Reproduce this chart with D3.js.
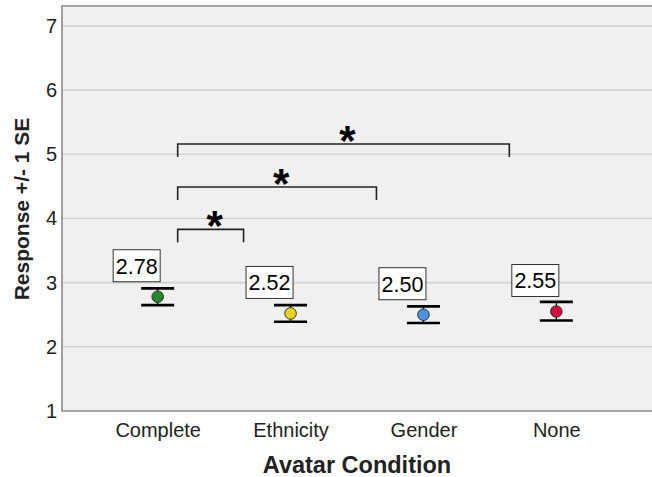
<!DOCTYPE html>
<html>
<head>
<meta charset="utf-8">
<script src="https://cdn.jsdelivr.net/npm/d3@7"></script>
<style>
  body { margin: 0; background: #fff; }
  svg { font-family: "Liberation Sans", Arial, sans-serif; display: block; }
</style>
</head>
<body>
<div id="vis"></div>
<script>
// chart values
var categories = ["Complete", "Ethnicity", "Gender", "None"];
var means = [2.78, 2.52, 2.50, 2.55];
var upper = [2.91, 2.65, 2.63, 2.70];
var lower = [2.65, 2.39, 2.37, 2.41];
var dotColours = ["#23882c", "#e6d41e", "#4f91e0", "#d10f3a"];
var yTicks = [1, 2, 3, 4, 5, 6, 7];
// significance brackets: from, to, height (response units)
var bracketFrom = ["Complete", "Complete", "Complete"];
var bracketTo = ["Ethnicity", "Gender", "None"];
var bracketLevel = [3.83, 4.49, 5.16];

var width = 652, height = 477;
var plot = {left: 62, right: 652, top: 6, bottom: 411};

var svg = d3.select("#vis").append("svg")
    .attr("width", width)
    .attr("height", height);

var x = d3.scalePoint()
    .domain(categories)
    .range([plot.left, plot.right])
    .padding(0.72);

var y = d3.scaleLinear()
    .domain([1, 7.31])
    .range([plot.bottom, plot.top]);

// background
svg.append("rect")
    .attr("x", plot.left)
    .attr("y", plot.top)
    .attr("width", plot.right - plot.left)
    .attr("height", plot.bottom - plot.top)
    .attr("fill", "#f0f0f0");

// grid
svg.append("g")
    .selectAll("line")
    .data(yTicks.slice(1))
    .enter().append("line")
    .attr("x1", plot.left)
    .attr("x2", plot.right)
    .attr("y1", function(d){ return y(d); })
    .attr("y2", function(d){ return y(d); })
    .attr("stroke", "#d2d2d2")
    .attr("stroke-width", 1.6);

// frame (top, left, bottom)
svg.append("path")
    .attr("d", "M" + plot.right + "," + plot.top + "H" + plot.left + "V" + plot.bottom + "H" + plot.right)
    .attr("fill", "none")
    .attr("stroke", "#8a8a8a")
    .attr("stroke-width", 1.6);

// y axis
var yAxis = svg.append("g")
    .attr("transform", "translate(" + plot.left + ",0)")
    .call(d3.axisLeft(y).tickValues(yTicks).tickFormat(d3.format("d")).tickSize(0).tickPadding(5));
yAxis.select(".domain").remove();
yAxis.selectAll("text")
    .attr("font-size", 20)
    .attr("fill", "#222")
    .attr("font-family", "Liberation Sans, Arial, sans-serif");

// x axis
var xAxis = svg.append("g")
    .attr("transform", "translate(0," + plot.bottom + ")")
    .call(d3.axisBottom(x).tickSize(0).tickPadding(12));
xAxis.select(".domain").remove();
xAxis.selectAll("text")
    .attr("font-size", 20)
    .attr("fill", "#222")
    .attr("font-family", "Liberation Sans, Arial, sans-serif");

// axis titles
svg.append("text")
    .attr("x", 357)
    .attr("y", 472.5)
    .attr("text-anchor", "middle")
    .attr("font-size", 23.5)
    .attr("font-weight", "bold")
    .attr("fill", "#222")
    .text("Avatar Condition");

svg.append("text")
    .attr("transform", "translate(28.5,209) rotate(-90)")
    .attr("text-anchor", "middle")
    .attr("font-size", 21)
    .attr("font-weight", "bold")
    .attr("fill", "#222")
    .text("Response +/- 1 SE");

// error bars
var bars = svg.append("g").selectAll("g")
    .data(categories)
    .enter().append("g");

bars.append("line")
    .attr("x1", function(d){ return x(d); })
    .attr("x2", function(d){ return x(d); })
    .attr("y1", function(d, i){ return y(upper[i]); })
    .attr("y2", function(d, i){ return y(lower[i]); })
    .attr("stroke", "#000")
    .attr("stroke-width", 1.2);

[upper, lower].forEach(function(arr){
    bars.append("line")
        .attr("x1", function(d){ return x(d) - 16.5; })
        .attr("x2", function(d){ return x(d) + 16.5; })
        .attr("y1", function(d, i){ return y(arr[i]); })
        .attr("y2", function(d, i){ return y(arr[i]); })
        .attr("stroke", "#000")
        .attr("stroke-width", 2.6);
});

bars.append("circle")
    .attr("cx", function(d){ return x(d); })
    .attr("cy", function(d, i){ return y(means[i]); })
    .attr("r", 5.8)
    .attr("fill", function(d, i){ return dotColours[i]; })
    .attr("stroke", "#333")
    .attr("stroke-width", 1);

// value labels
var labels = svg.append("g").selectAll("g")
    .data(categories)
    .enter().append("g")
    .attr("transform", function(d, i){
        return "translate(" + (x(d) + 2.5 - 47) + "," + (y(means[i]) - 15 - 32) + ")";
    });

labels.append("rect")
    .attr("width", 47)
    .attr("height", 32)
    .attr("fill", "#fff")
    .attr("stroke", "#333")
    .attr("stroke-width", 1);

labels.append("text")
    .attr("x", 23.5)
    .attr("y", 23.8)
    .attr("text-anchor", "middle")
    .attr("font-size", 21.5)
    .attr("fill", "#000")
    .text(function(d, i){ return means[i].toFixed(2); });

// significance brackets
var brackets = svg.append("g").selectAll("g")
    .data(bracketLevel)
    .enter().append("g");

brackets.append("path")
    .attr("d", function(d, i){
        var x1 = x(bracketFrom[i]) + 20, x2 = x(bracketTo[i]) - 47;
        var yy = y(d);
        return "M" + x1 + "," + (yy + 13) + "V" + yy + "H" + x2 + "V" + (yy + 13);
    })
    .attr("fill", "none")
    .attr("stroke", "#222")
    .attr("stroke-width", 1.6);

brackets.append("text")
    .attr("x", function(d, i){ return (x(bracketFrom[i]) + 20 + x(bracketTo[i]) - 47) / 2 + 4; })
    .attr("y", function(d){ return y(d) + 11; })
    .attr("text-anchor", "middle")
    .attr("font-size", 42)
    .attr("font-weight", "bold")
    .attr("fill", "#000")
    .text("*");
</script>
</body>
</html>
